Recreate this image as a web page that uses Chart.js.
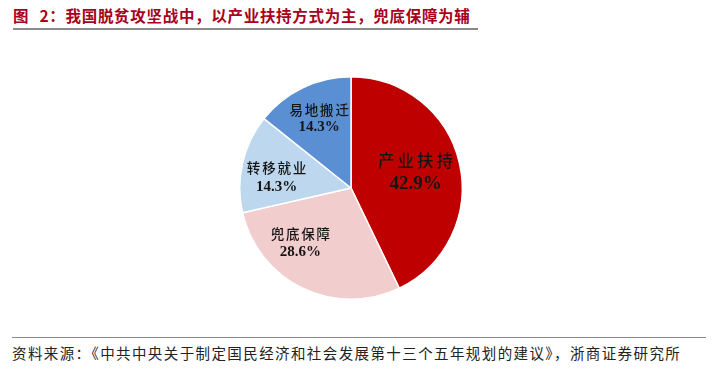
<!DOCTYPE html>
<html><head><meta charset="utf-8">
<script src="https://cdn.jsdelivr.net/npm/chart.js@4"></script>
<style>
html,body{margin:0;padding:0;background:#fff;width:713px;height:371px;overflow:hidden;position:relative;}
#title{position:absolute;left:13px;top:4px;font-family:"Noto Sans CJK SC";font-weight:bold;font-size:15.5px;color:#A8001C;white-space:nowrap;letter-spacing:0.7px;}
#title .n{margin-left:6px;}
#line1{position:absolute;left:13px;top:28px;width:465px;height:2px;background:#8a8a8a;}
#line2{position:absolute;left:12px;top:337px;width:694px;height:1px;background:#8a8a8a;}
#src{position:absolute;left:12px;top:342px;font-family:"Noto Sans CJK SC";font-size:14.5px;color:#222;white-space:nowrap;letter-spacing:1.4px;}
#wrap{position:absolute;left:231px;top:68px;width:240px;height:240px;}
</style></head><body>
<div id="title">图 <span class="n">2</span>：我国脱贫攻坚战中，以产业扶持方式为主，兜底保障为辅</div>
<div id="line1"></div>
<div id="wrap"><canvas id="c"></canvas></div>
<div id="line2"></div>
<div id="src">资料来源：《中共中央关于制定国民经济和社会发展第十三个五年规划的建议》，浙商证券研究所</div>
<script>
const categories = ["产业扶持", "兜底保障", "转移就业", "易地搬迁"];
const shares = [42.9, 28.6, 14.3, 14.3];
const valueLabels = ["42.9%", "28.6%", "14.3%", "14.3%"];
const colors = ["#BF0000", "#F1CDCD", "#BDD7EE", "#5B8FD3"];

// label placement: angle (deg clockwise from top), radius fraction, font sizes, half gap
const labelPos = [
  {a: 76.2, r: 0.598, f1: 16.5, f2: 19, sp: 3, g: 11.7},
  {a: 222.8, r: 0.67, f1: 13.5, f2: 15, sp: 1.8, g: 9},
  {a: 278, r: 0.676, f1: 13.5, f2: 15, sp: 1.8, g: 9.5},
  {a: 335.4, r: 0.687, f1: 13.5, f2: 15, sp: 1.8, g: 8.3}
];

const labelPlugin = {
  id: 'lbl',
  afterDatasetsDraw(chart) {
    const ctx = chart.ctx;
    const arc = chart.getDatasetMeta(0).data[0];
    const cx = arc.x, cy = arc.y, R = arc.outerRadius;
    ctx.save();
    ctx.textBaseline = 'middle';
    ctx.fillStyle = '#151515';
    categories.forEach((name, i) => {
      const p = labelPos[i];
      const ang = p.a * Math.PI / 180;
      const x = cx + Math.sin(ang) * R * p.r;
      const y = cy - Math.cos(ang) * R * p.r;
      ctx.font = '500 ' + p.f1 + 'px "Noto Sans CJK SC"';
      const chars = Array.from(name);
      const widths = chars.map(ch => ctx.measureText(ch).width);
      const total = widths.reduce((s, w) => s + w, 0) + p.sp * (chars.length - 1);
      let xx = x - total / 2;
      ctx.textAlign = 'left';
      chars.forEach((ch, k) => { ctx.fillText(ch, xx, y - p.g); xx += widths[k] + p.sp; });
      ctx.textAlign = 'center';
      ctx.font = 'bold ' + p.f2 + 'px "Liberation Serif"';
      ctx.fillText(valueLabels[i], x, y + p.g);
    });
    ctx.restore();
  }
};

new Chart(document.getElementById('c'), {
  type: 'pie',
  data: {
    labels: categories,
    datasets: [{
      data: shares,
      backgroundColor: colors,
      borderColor: '#ffffff',
      borderWidth: 1.5
    }]
  },
  options: {
    responsive: true,
    maintainAspectRatio: false,
    animation: false,
    layout: {padding: 8},
    plugins: {legend: {display: false}, tooltip: {enabled: false}}
  },
  plugins: [labelPlugin]
});
</script>
</body></html>
